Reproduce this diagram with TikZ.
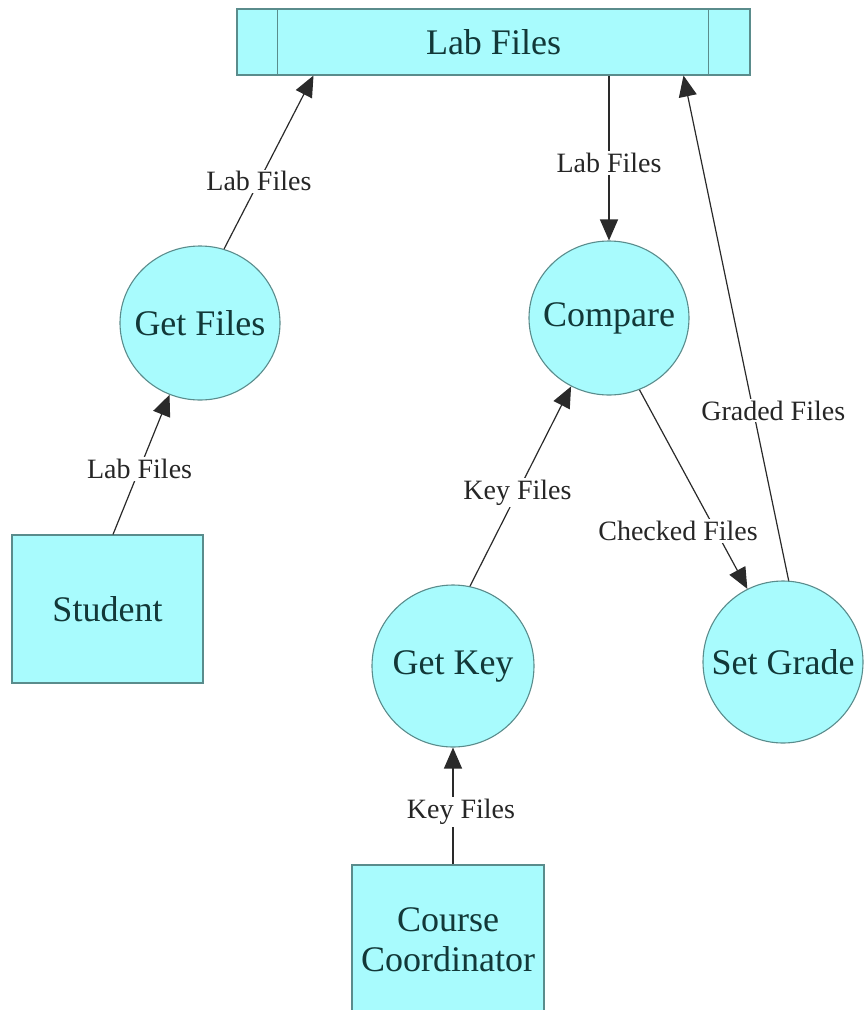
\documentclass[tikz,border=0pt]{standalone}
\usepackage{fontspec}
\setmainfont{LiberationSerif}[Extension=.ttf, UprightFont=*-Regular, BoldFont=*-Bold]
\usetikzlibrary{shapes.geometric,arrows.meta,calc}
\definecolor{cyanfill}{HTML}{A8FBFD}
\definecolor{nodeborder}{HTML}{5A8C8C}
\definecolor{nodetext}{HTML}{123838}
\definecolor{edgecol}{HTML}{2A2A2A}
\newcommand\zw[1]{\makebox[0pt]{#1}}
\begin{document}
\begin{tikzpicture}[x=1pt,y=-1pt,
  proc/.style={ellipse, draw=nodeborder, fill=cyanfill, line width=1.1pt, inner sep=0pt,
    text=nodetext, font=\fontsize{36}{40}\selectfont},
  ent/.style={rectangle, draw=nodeborder, fill=cyanfill, line width=1.1pt, inner sep=0pt,
    text=nodetext, font=\fontsize{36}{40}\selectfont, align=center},
  flow/.style={draw=edgecol, line width=1.2pt, -{Triangle[length=21pt,width=18pt]}},
  lbl/.style={fill=white, inner sep=2pt, text=black!85, font=\fontsize{28}{32}\selectfont}]

\useasboundingbox (0,0) rectangle (867,1010);
\clip (0,0) rectangle (867,1010);

% data store
\node[ent, minimum width=513pt, minimum height=66pt] (store) at (493.5,42) {Lab Files};
\draw[nodeborder, line width=1.1pt] ([xshift=41pt]store.north west) -- ([xshift=41pt]store.south west);
\draw[nodeborder, line width=1.1pt] ([xshift=-42pt]store.north east) -- ([xshift=-42pt]store.south east);

% processes
\node[proc, minimum width=160pt, minimum height=154pt] (getfiles) at (200,323) {\zw{Get Files}};
\node[proc, minimum width=160pt, minimum height=154pt] (compare) at (609,318) {\zw{Compare}};
\node[proc, minimum width=162pt, minimum height=162pt] (getkey) at (453,666) {\zw{Get Key}};
\node[proc, minimum width=160pt, minimum height=162pt] (setgrade) at (783,662) {\zw{Set Grade}};

% external entities
\node[ent, minimum width=191pt, minimum height=148pt] (student) at (107.5,609) {Student};
\node[ent, minimum width=192pt, minimum height=150pt] (cc) at (448,940) {Course\\Coordinator};

% flows
\draw[flow] ([xshift=5.5pt]student.north) -- (getfiles.247) node[lbl, pos=0.47] {Lab Files};
\draw[flow] (getfiles.72) -- ([xshift=-180pt]store.south) node[lbl, pos=0.39] {Lab Files};
\draw[flow] (store.south -| compare.north) -- (compare.north) node[lbl, pos=0.53] {Lab Files};
\draw[flow] (getkey.78) -- (compare.241) node[lbl, pos=0.47] {Key Files};
\draw[flow] (compare.293) -- (setgrade.116) node[lbl, pos=0.71, xshift=-38pt] {Checked Files};
\draw[flow] (setgrade.86) -- ([xshift=190pt]store.south) node[lbl, pos=0.337, xshift=20pt] {Graded Files};
\draw[flow] (getkey.south |- cc.north) -- (getkey.south) node[lbl, pos=0.45, xshift=8pt] {Key Files};
\end{tikzpicture}
\end{document}
